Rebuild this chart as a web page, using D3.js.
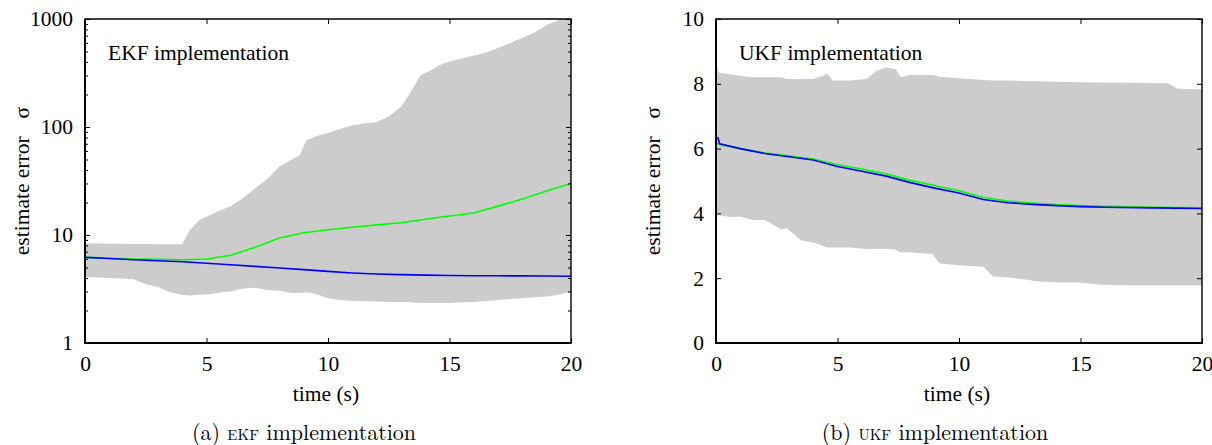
<!DOCTYPE html>
<html>
<head>
<meta charset="utf-8">
<script src="https://cdn.jsdelivr.net/npm/d3@7"></script>
</head>
<body style="margin:0;background:#fff">
<script>
// ---- EKF panel data (log scale) ----
var ekfBandTime = [0, 0.5, 1, 1.5, 2, 2.5, 3, 3.5, 4, 4.3, 4.7, 5.2, 5.6, 6, 6.5, 7, 7.5, 8, 8.5, 8.85, 9.1, 9.5, 10, 10.5, 11, 11.5, 12, 12.5, 13, 13.4, 13.8, 14.3, 14.6, 15, 15.5, 16, 16.5, 17, 17.5, 18, 18.5, 19, 19.5, 20];
var ekfLow  = [4.1, 4.05, 4.0, 3.95, 3.9, 3.5, 3.3, 2.95, 2.8, 2.75, 2.8, 2.85, 2.95, 3.0, 3.2, 3.25, 3.1, 3.05, 2.9, 2.9, 2.95, 2.85, 2.6, 2.5, 2.45, 2.45, 2.42, 2.4, 2.4, 2.38, 2.35, 2.35, 2.35, 2.35, 2.38, 2.4, 2.45, 2.5, 2.55, 2.6, 2.65, 2.7, 2.8, 3.0];
var ekfHigh = [8.4, 8.35, 8.3, 8.3, 8.25, 8.25, 8.2, 8.2, 8.2, 11, 13.8, 15.5, 17, 18.5, 22, 27, 33, 43, 50, 55, 75, 82, 88, 96, 104, 108, 111, 125, 153, 210, 300, 340, 375, 405, 430, 460, 490, 540, 600, 670, 750, 880, 980, 1080];

var ekfLineTime = [0, 0.05, 1, 2, 3, 4, 5, 6, 7, 8, 9, 10, 11, 12, 13, 14, 15, 16, 17, 18, 19, 20];
var ekfGreen = [6.2, 6.2, 6.1, 6.0, 5.95, 5.9, 6.0, 6.5, 7.7, 9.4, 10.5, 11.2, 11.8, 12.4, 13.0, 14.0, 15.0, 16.0, 18.5, 21.5, 25.5, 30];
var ekfBlue  = [6.35, 6.2, 6.05, 5.9, 5.78, 5.65, 5.48, 5.3, 5.12, 4.95, 4.78, 4.6, 4.45, 4.35, 4.3, 4.25, 4.22, 4.2, 4.19, 4.18, 4.17, 4.15];

// ---- UKF panel data (linear scale) ----
var ukfBandTime = [0, 0.1, 0.5, 1, 1.5, 2, 2.7, 2.9, 3.5, 4, 4.6, 4.8, 5.5, 6.2, 6.6, 7, 7.4, 7.6, 8, 8.9, 9.2, 10, 11, 11.4, 12, 13.3, 14, 15, 15.8, 17, 18.6, 19, 20];
var ukfLow  = [3.94, 3.94, 3.9, 3.9, 3.8, 3.8, 3.5, 3.55, 3.17, 3.1, 2.95, 2.95, 2.95, 2.9, 2.9, 2.9, 2.88, 2.8, 2.8, 2.75, 2.45, 2.4, 2.35, 2.05, 2.03, 1.9, 1.87, 1.87, 1.8, 1.78, 1.78, 1.78, 1.78];
var ukfHigh = [8.7, 8.35, 8.3, 8.25, 8.2, 8.2, 8.2, 8.15, 8.15, 8.15, 8.3, 8.1, 8.1, 8.15, 8.4, 8.5, 8.45, 8.2, 8.27, 8.27, 8.22, 8.17, 8.12, 8.1, 8.1, 8.08, 8.06, 8.05, 8.04, 8.03, 8.02, 7.85, 7.83];

var ukfLineTime = [0, 0.08, 0.15, 1, 2, 3, 4, 5, 6, 7, 8, 9, 10, 11, 12, 13, 14, 15, 16, 18, 20];
var ukfGreen = [6.15, 6.15, 6.13, 6.0, 5.87, 5.78, 5.68, 5.5, 5.37, 5.22, 5.02, 4.86, 4.7, 4.5, 4.38, 4.32, 4.27, 4.24, 4.22, 4.19, 4.17];
var ukfBlue  = [6.33, 6.33, 6.15, 6.0, 5.85, 5.75, 5.65, 5.45, 5.3, 5.15, 4.95, 4.78, 4.63, 4.43, 4.33, 4.28, 4.24, 4.21, 4.19, 4.17, 4.15];

var xTicks = [0, 5, 10, 15, 20];
var ekfTicks = [1, 10, 100, 1000];
var ekfMinor = [2, 3, 4, 5, 6, 7, 8, 9, 20, 30, 40, 50, 60, 70, 80, 90, 200, 300, 400, 500, 600, 700, 800, 900];
var ukfTicks = [0, 2, 4, 6, 8, 10];

var fontSize = "21.5px";
var plotFont = "'Liberation Serif', Tinos, 'Times New Roman'";
var capFont = "'Latin Modern Roman', 'Liberation Serif'";

var svg = d3.select("body").append("svg")
  .attr("width", 1212)
  .attr("height", 445)
  .style("font-family", plotFont)
  .style("font-size", fontSize);

function label(sel) {
  sel.attr("fill", "#000")
    .attr("font-family", null)
    .attr("font-size", null)
    .style("font-family", plotFont)
    .style("font-size", fontSize);
}

function styleAxis(g) {
  g.attr("font-family", null).attr("font-size", null);
  g.select(".domain").remove();
  g.selectAll("line").attr("stroke", "#000").attr("stroke-width", 1);
  g.selectAll("text").call(label);
}

function drawPanel(p) {
  var x = d3.scaleLinear().domain([0, 20]).range([p.left, p.right]);
  var y = p.y;
  var top = 19, bottom = 343;

  var g = svg.append("g");
  var clipId = "clip" + p.id;
  g.append("clipPath").attr("id", clipId)
    .append("rect")
    .attr("x", p.left).attr("y", top)
    .attr("width", p.right - p.left).attr("height", bottom - top);

  var band = p.bandTime.map(function(t, i) { return {t: t, lo: p.low[i], hi: p.high[i]}; });
  g.append("path")
    .datum(band)
    .attr("clip-path", "url(#" + clipId + ")")
    .attr("fill", "#cccccc")
    .attr("d", d3.area()
      .x(function(d) { return x(d.t); })
      .y0(function(d) { return y(d.lo); })
      .y1(function(d) { return y(d.hi); }));

  var line = d3.line()
    .x(function(d) { return x(d.t); })
    .y(function(d) { return y(d.v); });

  [[p.green, "#00ff00"], [p.blue, "#0000ff"]].forEach(function(s) {
    g.append("path")
      .datum(p.lineTime.map(function(t, i) { return {t: t, v: s[0][i]}; }))
      .attr("clip-path", "url(#" + clipId + ")")
      .attr("fill", "none")
      .attr("stroke", s[1])
      .attr("stroke-width", 1.6)
      .attr("d", line);
  });

  // axes, ticks pointing inward on all four sides
  g.append("g").attr("transform", "translate(0," + bottom + ")")
    .call(d3.axisBottom(x).tickValues(xTicks).tickSizeInner(-5).tickSizeOuter(0).tickPadding(13))
    .call(styleAxis);
  g.append("g").attr("transform", "translate(0," + top + ")")
    .call(d3.axisTop(x).tickValues(xTicks).tickSizeInner(-5).tickSizeOuter(0).tickFormat(""))
    .call(styleAxis);
  g.append("g").attr("transform", "translate(" + p.left + ",0)")
    .call(d3.axisLeft(y).tickValues(p.ticks).tickSizeInner(-5).tickSizeOuter(0).tickPadding(12).tickFormat(d3.format("d")))
    .call(styleAxis);
  g.append("g").attr("transform", "translate(" + p.right + ",0)")
    .call(d3.axisRight(y).tickValues(p.ticks).tickSizeInner(-5).tickSizeOuter(0).tickFormat(""))
    .call(styleAxis);
  if (p.minor) {
    g.append("g").attr("transform", "translate(" + p.left + ",0)")
      .call(d3.axisLeft(y).tickValues(p.minor).tickSizeInner(-3).tickSizeOuter(0).tickFormat(""))
      .call(styleAxis);
    g.append("g").attr("transform", "translate(" + p.right + ",0)")
      .call(d3.axisRight(y).tickValues(p.minor).tickSizeInner(-3).tickSizeOuter(0).tickFormat(""))
      .call(styleAxis);
  }

  // frame
  g.append("line").attr("x1", p.left).attr("x2", p.left).attr("y1", top - 0.5).attr("y2", bottom + 1)
    .attr("stroke", "#000").attr("stroke-width", 2);
  g.append("line").attr("x1", p.left - 1).attr("x2", p.right + 0.7).attr("y1", bottom).attr("y2", bottom)
    .attr("stroke", "#000").attr("stroke-width", 2);
  g.append("line").attr("x1", p.left).attr("x2", p.right + 0.7).attr("y1", top).attr("y2", top)
    .attr("stroke", "#000").attr("stroke-width", 1.3);
  g.append("line").attr("x1", p.right).attr("x2", p.right).attr("y1", top).attr("y2", bottom)
    .attr("stroke", "#000").attr("stroke-width", 1.4);

  // inner title
  g.append("text")
    .attr("x", p.left + 23).attr("y", 60)
    .text(p.title)
    .call(label);

  // y label
  var yl = g.append("text")
    .attr("transform", "translate(" + (p.left - 56) + "," + ((top + bottom) / 2) + ") rotate(-90)")
    .attr("text-anchor", "middle")
    .text("estimate error")
    .call(label);
  yl.append("tspan").attr("dx", 18).text("σ");

  // x label
  g.append("text")
    .attr("x", (p.left + p.right) / 2 - 2).attr("y", 401)
    .attr("text-anchor", "middle")
    .text("time (s)")
    .call(label);

  // caption
  var cap = g.append("text")
    .attr("x", (p.left + p.right) / 2 - 24).attr("y", 440)
    .attr("text-anchor", "middle")
    .attr("fill", "#000")
    .style("font-family", capFont)
    .style("font-size", "22px")
    .text(p.capLabel + " ");
  cap.append("tspan").style("font-variant", "small-caps").text(p.capName);
  cap.append("tspan").text(" implementation");
}

drawPanel({
  id: "ekf", left: 85, right: 571,
  y: d3.scaleLog().domain([1, 1000]).range([343, 19]),
  ticks: ekfTicks, minor: ekfMinor,
  bandTime: ekfBandTime, low: ekfLow, high: ekfHigh,
  lineTime: ekfLineTime, green: ekfGreen, blue: ekfBlue,
  title: "EKF implementation", capLabel: "(a)", capName: "ekf"
});

drawPanel({
  id: "ukf", left: 716, right: 1202,
  y: d3.scaleLinear().domain([0, 10]).range([343, 19]),
  ticks: ukfTicks, minor: null,
  bandTime: ukfBandTime, low: ukfLow, high: ukfHigh,
  lineTime: ukfLineTime, green: ukfGreen, blue: ukfBlue,
  title: "UKF implementation", capLabel: "(b)", capName: "ukf"
});
</script>
</body>
</html>
